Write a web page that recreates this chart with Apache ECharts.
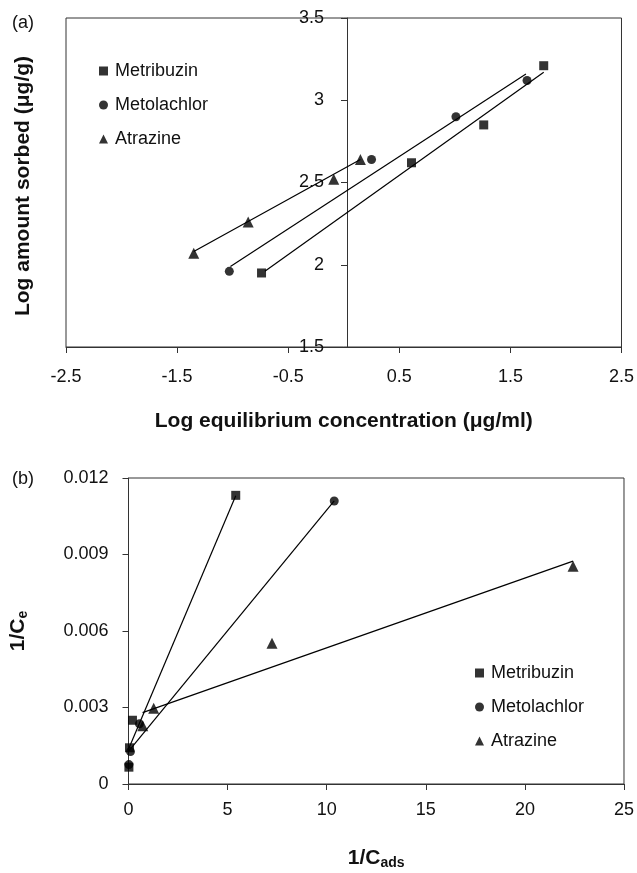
<!DOCTYPE html>
<html>
<head>
<meta charset="utf-8">
<title>Sorption isotherms</title>
<script src="https://cdn.jsdelivr.net/npm/echarts@6/dist/echarts.min.js"></script>
<style>
  html, body { margin: 0; padding: 0; background: #fff; }
  #chart { width: 637px; height: 873px; }
</style>
</head>
<body>
<div id="chart"></div>
<script>
// (a) log-log data: [log Ce, log Cads]
const seriesNames = ['Metribuzin', 'Metolachlor', 'Atrazine'];
const symbols = ['rect', 'circle', 'triangle'];
const symbolSizes = [9, 9, 11];

const metribuzinA = [[-0.74, 1.95], [0.61, 2.62], [1.26, 2.85], [1.80, 3.21]];
const metolachlorA = [[-1.03, 1.96], [0.25, 2.64], [1.01, 2.90], [1.65, 3.12]];
const atrazineA = [[-1.35, 2.07], [-0.86, 2.26], [-0.09, 2.52], [0.15, 2.64]];

// fitted lines (a), end points
const metribuzinFitA = [[-0.71, 1.96], [1.80, 3.17]];
const metolachlorFitA = [[-1.02, 1.99], [1.64, 3.16]];
const atrazineFitA = [[-1.35, 2.08], [0.15, 2.64]];

// (b) reciprocal data
const metribuzinB = [[0.02, 0.00066], [0.05, 0.00142], [0.20, 0.00250], [5.41, 0.01132]];
const metolachlorB = [[0.02, 0.00076], [0.10, 0.00127], [0.55, 0.00236], [10.38, 0.01110]];
const atrazineB = [[0.72, 0.00228], [1.27, 0.00297], [7.24, 0.00552], [22.43, 0.00854]];

const metribuzinFitB = [[0.02, 0.00140], [5.41, 0.01130]];
const metolachlorFitB = [[0.02, 0.00130], [10.38, 0.01110]];
const atrazineFitB = [[0.71, 0.00280], [22.43, 0.00874]];

// axis ranges / ticks
const xTicksA = { min: -2.5, max: 2.5, step: 1 };
const yTicksA = { min: 1.5, max: 3.5, step: 0.5 };
const xTicksB = { min: 0, max: 25, step: 5 };
const yTicksB = { min: 0, max: 0.012, step: 0.003 };

(function () {
    const FONT = '"Liberation Sans", Arial, sans-serif';
    const AXIS_COLOR = '#333';
    const GRID_A = { left: 66, right: 9, top: 18, bottom: 526 };
    const GRID_B = { left: 127, right: 11, top: 478, bottom: 89 };

    function scatter(name, data, i, grid) {
        return {
            name: name,
            type: 'scatter',
            xAxisIndex: grid,
            yAxisIndex: grid,
            data: data,
            symbol: symbols[i],
            symbolSize: symbolSizes[i],
            itemStyle: { color: '#000' },
            z: 3
        };
    }

    function fitLine(name, data, grid) {
        return {
            name: name,
            type: 'line',
            xAxisIndex: grid,
            yAxisIndex: grid,
            data: data,
            symbol: 'none',
            lineStyle: { color: '#000', width: 1.2 },
            z: 2
        };
    }

    function valueAxis(grid, t, extra) {
        return Object.assign({
            type: 'value',
            gridIndex: grid,
            min: t.min,
            max: t.max,
            interval: t.step,
            splitLine: { show: false },
            axisLine: { onZero: false, lineStyle: { color: AXIS_COLOR, width: 1 } },
            axisTick: { length: 6, lineStyle: { color: AXIS_COLOR } },
            axisLabel: { fontSize: 18, color: '#111', fontFamily: FONT }
        }, extra);
    }

    function legend(left, top) {
        return {
            orient: 'vertical',
            left: left,
            top: top,
            itemWidth: 9,
            itemHeight: 9,
            itemGap: 16,
            selectedMode: false,
            data: seriesNames.map((n, i) => ({ name: n, icon: symbols[i] })),
            textStyle: { fontSize: 18, color: '#111', fontFamily: FONT, padding: [0, 0, 0, 2] }
        };
    }

    // y axis of (a) sits at x = 0: shift it in from the left border
    const plotWidthA = 637 - GRID_A.left - GRID_A.right;
    const zeroOffsetA = plotWidthA * (0 - xTicksA.min) / (xTicksA.max - xTicksA.min);

    const chart = echarts.init(document.getElementById('chart'), null, { renderer: 'canvas' });

    const option = {
        animation: false,
        backgroundColor: '#fff',
        grid: [
            Object.assign({ show: true, borderColor: AXIS_COLOR, borderWidth: 1 }, GRID_A),
            Object.assign({ show: true, borderColor: AXIS_COLOR, borderWidth: 1 }, GRID_B)
        ],
        xAxis: [
            valueAxis(0, xTicksA, {
                name: 'Log equilibrium concentration (μg/ml)',
                nameLocation: 'middle',
                nameGap: 64,
                nameTextStyle: { fontSize: 21, fontWeight: 'bold', color: '#111', fontFamily: FONT },
                axisLabel: { fontSize: 18, color: '#111', fontFamily: FONT, margin: 21 }
            }),
            valueAxis(1, xTicksB, {
                name: '{m|1/C}{s|ads}',
                nameLocation: 'middle',
                nameGap: 62,
                nameTextStyle: {
                    rich: {
                        m: { fontSize: 21, fontWeight: 'bold', color: '#111', fontFamily: FONT, lineHeight: 24 },
                        s: { fontSize: 14, fontWeight: 'bold', color: '#111', fontFamily: FONT, lineHeight: 14, verticalAlign: 'bottom', padding: [8, 0, 0, 0] }
                    }
                },
                axisLabel: { fontSize: 18, color: '#111', fontFamily: FONT, margin: 17 }
            })
        ],
        yAxis: [
            valueAxis(0, yTicksA, {
                position: 'left',
                offset: -zeroOffsetA,
                axisLabel: { fontSize: 18, color: '#111', fontFamily: FONT, margin: 23 }
            }),
            valueAxis(1, yTicksB, {
                name: '{m|1/C}{s|e}',
                nameLocation: 'middle',
                nameRotate: 90,
                nameGap: 98,
                nameTextStyle: {
                    rich: {
                        m: { fontSize: 21, fontWeight: 'bold', color: '#111', fontFamily: FONT, lineHeight: 24 },
                        s: { fontSize: 14, fontWeight: 'bold', color: '#111', fontFamily: FONT, lineHeight: 14, verticalAlign: 'bottom', padding: [8, 0, 0, 0] }
                    }
                },
                axisLabel: { fontSize: 18, color: '#111', fontFamily: FONT, margin: 20 }
            })
        ],
        legend: [legend(94, 57), legend(470, 659)],
        graphic: [
            { type: 'text', left: 12, top: 14, style: { text: '(a)', fontSize: 18, fill: '#111', fontFamily: FONT } },
            { type: 'text', left: 12, top: 470, style: { text: '(b)', fontSize: 18, fill: '#111', fontFamily: FONT } },
            {
                type: 'text',
                x: 23, y: 186,
                rotation: Math.PI / 2,
                style: {
                    text: 'Log amount sorbed (μg/g)',
                    fontSize: 21, fontWeight: 'bold', fill: '#111', fontFamily: FONT,
                    align: 'center', verticalAlign: 'middle'
                }
            }
        ],
        series: [
            fitLine('Metribuzin fit a', metribuzinFitA, 0),
            fitLine('Metolachlor fit a', metolachlorFitA, 0),
            fitLine('Atrazine fit a', atrazineFitA, 0),
            scatter('Metribuzin', metribuzinA, 0, 0),
            scatter('Metolachlor', metolachlorA, 1, 0),
            scatter('Atrazine', atrazineA, 2, 0),
            fitLine('Metribuzin fit b', metribuzinFitB, 1),
            fitLine('Metolachlor fit b', metolachlorFitB, 1),
            fitLine('Atrazine fit b', atrazineFitB, 1),
            scatter('Metribuzin', metribuzinB, 0, 1),
            scatter('Metolachlor', metolachlorB, 1, 1),
            scatter('Atrazine', atrazineB, 2, 1)
        ]
    };

    chart.setOption(option);
})();
</script>
</body>
</html>
